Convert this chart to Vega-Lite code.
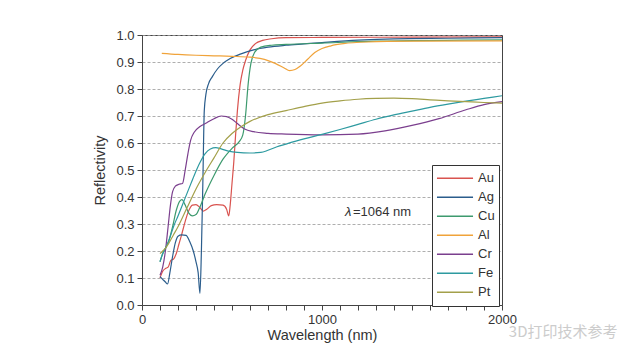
{
  "$schema": "https://vega.github.io/schema/vega-lite/v6.json",
  "autosize": "none",
  "width": 360,
  "height": 270,
  "padding": {"left": 142, "top": 35, "right": 139, "bottom": 53},
  "background": "white",
  "config": {
    "view": {"stroke": "#444", "strokeWidth": 1},
    "font": "Liberation Sans",
    "axis": {
      "domainColor": "#444",
      "tickColor": "#444",
      "labelColor": "#333",
      "titleColor": "#333",
      "labelFontSize": 13,
      "titleFontSize": 14.5,
      "titleFontWeight": "normal",
      "tickSize": 5,
      "labelOverlap": false,
      "labelFlush": false,
      "labelFont": "Liberation Sans",
      "titleFont": "Liberation Sans"
    }
  },
  "datasets": {
    "curves": [
      {"m":"Au","wl":100,"r":0.10},{"m":"Au","wl":115,"r":0.125},{"m":"Au","wl":130,"r":0.135},{"m":"Au","wl":145,"r":0.14},{"m":"Au","wl":160,"r":0.165},{"m":"Au","wl":175,"r":0.17},{"m":"Au","wl":190,"r":0.19},{"m":"Au","wl":205,"r":0.225},{"m":"Au","wl":220,"r":0.26},{"m":"Au","wl":240,"r":0.31},{"m":"Au","wl":260,"r":0.35},{"m":"Au","wl":280,"r":0.37},{"m":"Au","wl":300,"r":0.372},{"m":"Au","wl":320,"r":0.362},{"m":"Au","wl":340,"r":0.348},{"m":"Au","wl":360,"r":0.355},{"m":"Au","wl":385,"r":0.368},{"m":"Au","wl":415,"r":0.372},{"m":"Au","wl":450,"r":0.37},{"m":"Au","wl":470,"r":0.355},{"m":"Au","wl":482,"r":0.33},{"m":"Au","wl":490,"r":0.37},{"m":"Au","wl":500,"r":0.45},{"m":"Au","wl":510,"r":0.53},{"m":"Au","wl":520,"r":0.63},{"m":"Au","wl":530,"r":0.72},{"m":"Au","wl":545,"r":0.815},{"m":"Au","wl":560,"r":0.87},{"m":"Au","wl":575,"r":0.905},{"m":"Au","wl":600,"r":0.945},{"m":"Au","wl":630,"r":0.968},{"m":"Au","wl":670,"r":0.98},{"m":"Au","wl":720,"r":0.986},{"m":"Au","wl":800,"r":0.99},{"m":"Au","wl":1000,"r":0.991},{"m":"Au","wl":1500,"r":0.992},{"m":"Au","wl":2000,"r":0.993},

      {"m":"Ag","wl":100,"r":0.105},{"m":"Ag","wl":115,"r":0.095},{"m":"Ag","wl":130,"r":0.085},{"m":"Ag","wl":142,"r":0.078},{"m":"Ag","wl":155,"r":0.12},{"m":"Ag","wl":170,"r":0.18},{"m":"Ag","wl":185,"r":0.23},{"m":"Ag","wl":200,"r":0.255},{"m":"Ag","wl":220,"r":0.26},{"m":"Ag","wl":245,"r":0.258},{"m":"Ag","wl":265,"r":0.235},{"m":"Ag","wl":285,"r":0.2},{"m":"Ag","wl":300,"r":0.16},{"m":"Ag","wl":312,"r":0.12},{"m":"Ag","wl":322,"r":0.043},{"m":"Ag","wl":330,"r":0.2},{"m":"Ag","wl":338,"r":0.45},{"m":"Ag","wl":346,"r":0.72},{"m":"Ag","wl":355,"r":0.78},{"m":"Ag","wl":370,"r":0.82},{"m":"Ag","wl":390,"r":0.845},{"m":"Ag","wl":420,"r":0.875},{"m":"Ag","wl":450,"r":0.895},{"m":"Ag","wl":490,"r":0.913},{"m":"Ag","wl":550,"r":0.93},{"m":"Ag","wl":620,"r":0.945},{"m":"Ag","wl":700,"r":0.955},{"m":"Ag","wl":800,"r":0.962},{"m":"Ag","wl":900,"r":0.967},{"m":"Ag","wl":1000,"r":0.972},{"m":"Ag","wl":1200,"r":0.981},{"m":"Ag","wl":1400,"r":0.986},{"m":"Ag","wl":1700,"r":0.988},{"m":"Ag","wl":2000,"r":0.99},

      {"m":"Cu","wl":100,"r":0.16},{"m":"Cu","wl":115,"r":0.19},{"m":"Cu","wl":130,"r":0.21},{"m":"Cu","wl":150,"r":0.24},{"m":"Cu","wl":170,"r":0.29},{"m":"Cu","wl":190,"r":0.35},{"m":"Cu","wl":210,"r":0.385},{"m":"Cu","wl":222,"r":0.39},{"m":"Cu","wl":240,"r":0.37},{"m":"Cu","wl":260,"r":0.34},{"m":"Cu","wl":280,"r":0.33},{"m":"Cu","wl":300,"r":0.335},{"m":"Cu","wl":320,"r":0.36},{"m":"Cu","wl":350,"r":0.41},{"m":"Cu","wl":400,"r":0.48},{"m":"Cu","wl":450,"r":0.54},{"m":"Cu","wl":500,"r":0.58},{"m":"Cu","wl":540,"r":0.605},{"m":"Cu","wl":560,"r":0.63},{"m":"Cu","wl":575,"r":0.70},{"m":"Cu","wl":590,"r":0.82},{"m":"Cu","wl":605,"r":0.895},{"m":"Cu","wl":625,"r":0.935},{"m":"Cu","wl":660,"r":0.955},{"m":"Cu","wl":720,"r":0.962},{"m":"Cu","wl":800,"r":0.965},{"m":"Cu","wl":1000,"r":0.97},{"m":"Cu","wl":1300,"r":0.977},{"m":"Cu","wl":2000,"r":0.982},

      {"m":"Al","wl":110,"r":0.932},{"m":"Al","wl":200,"r":0.928},{"m":"Al","wl":300,"r":0.925},{"m":"Al","wl":400,"r":0.923},{"m":"Al","wl":500,"r":0.921},{"m":"Al","wl":600,"r":0.918},{"m":"Al","wl":680,"r":0.91},{"m":"Al","wl":740,"r":0.895},{"m":"Al","wl":790,"r":0.878},{"m":"Al","wl":820,"r":0.868},{"m":"Al","wl":850,"r":0.872},{"m":"Al","wl":880,"r":0.885},{"m":"Al","wl":920,"r":0.91},{"m":"Al","wl":960,"r":0.935},{"m":"Al","wl":1000,"r":0.95},{"m":"Al","wl":1050,"r":0.96},{"m":"Al","wl":1120,"r":0.968},{"m":"Al","wl":1250,"r":0.974},{"m":"Al","wl":1500,"r":0.977},{"m":"Al","wl":2000,"r":0.978},

      {"m":"Cr","wl":100,"r":0.11},{"m":"Cr","wl":115,"r":0.14},{"m":"Cr","wl":130,"r":0.20},{"m":"Cr","wl":145,"r":0.29},{"m":"Cr","wl":158,"r":0.37},{"m":"Cr","wl":170,"r":0.42},{"m":"Cr","wl":185,"r":0.44},{"m":"Cr","wl":205,"r":0.447},{"m":"Cr","wl":225,"r":0.45},{"m":"Cr","wl":240,"r":0.50},{"m":"Cr","wl":255,"r":0.56},{"m":"Cr","wl":270,"r":0.61},{"m":"Cr","wl":290,"r":0.64},{"m":"Cr","wl":320,"r":0.66},{"m":"Cr","wl":360,"r":0.675},{"m":"Cr","wl":400,"r":0.69},{"m":"Cr","wl":440,"r":0.70},{"m":"Cr","wl":470,"r":0.698},{"m":"Cr","wl":500,"r":0.688},{"m":"Cr","wl":530,"r":0.672},{"m":"Cr","wl":570,"r":0.652},{"m":"Cr","wl":620,"r":0.642},{"m":"Cr","wl":700,"r":0.636},{"m":"Cr","wl":800,"r":0.633},{"m":"Cr","wl":1000,"r":0.63},{"m":"Cr","wl":1200,"r":0.633},{"m":"Cr","wl":1350,"r":0.645},{"m":"Cr","wl":1500,"r":0.665},{"m":"Cr","wl":1650,"r":0.69},{"m":"Cr","wl":1800,"r":0.723},{"m":"Cr","wl":1900,"r":0.742},{"m":"Cr","wl":2000,"r":0.753},

      {"m":"Fe","wl":100,"r":0.16},{"m":"Fe","wl":115,"r":0.19},{"m":"Fe","wl":130,"r":0.21},{"m":"Fe","wl":150,"r":0.24},{"m":"Fe","wl":175,"r":0.29},{"m":"Fe","wl":200,"r":0.33},{"m":"Fe","wl":230,"r":0.38},{"m":"Fe","wl":260,"r":0.43},{"m":"Fe","wl":290,"r":0.48},{"m":"Fe","wl":320,"r":0.525},{"m":"Fe","wl":350,"r":0.56},{"m":"Fe","wl":380,"r":0.578},{"m":"Fe","wl":410,"r":0.583},{"m":"Fe","wl":440,"r":0.578},{"m":"Fe","wl":480,"r":0.57},{"m":"Fe","wl":530,"r":0.565},{"m":"Fe","wl":600,"r":0.563},{"m":"Fe","wl":660,"r":0.565},{"m":"Fe","wl":700,"r":0.573},{"m":"Fe","wl":750,"r":0.586},{"m":"Fe","wl":800,"r":0.596},{"m":"Fe","wl":900,"r":0.615},{"m":"Fe","wl":1000,"r":0.632},{"m":"Fe","wl":1100,"r":0.65},{"m":"Fe","wl":1200,"r":0.669},{"m":"Fe","wl":1300,"r":0.688},{"m":"Fe","wl":1400,"r":0.704},{"m":"Fe","wl":1500,"r":0.718},{"m":"Fe","wl":1600,"r":0.732},{"m":"Fe","wl":1700,"r":0.744},{"m":"Fe","wl":1800,"r":0.755},{"m":"Fe","wl":1900,"r":0.765},{"m":"Fe","wl":2000,"r":0.775},

      {"m":"Pt","wl":100,"r":0.19},{"m":"Pt","wl":115,"r":0.20},{"m":"Pt","wl":130,"r":0.21},{"m":"Pt","wl":150,"r":0.23},{"m":"Pt","wl":175,"r":0.26},{"m":"Pt","wl":200,"r":0.29},{"m":"Pt","wl":250,"r":0.36},{"m":"Pt","wl":300,"r":0.43},{"m":"Pt","wl":350,"r":0.49},{"m":"Pt","wl":400,"r":0.545},{"m":"Pt","wl":450,"r":0.60},{"m":"Pt","wl":500,"r":0.635},{"m":"Pt","wl":550,"r":0.66},{"m":"Pt","wl":600,"r":0.68},{"m":"Pt","wl":700,"r":0.705},{"m":"Pt","wl":800,"r":0.72},{"m":"Pt","wl":900,"r":0.735},{"m":"Pt","wl":1000,"r":0.748},{"m":"Pt","wl":1100,"r":0.756},{"m":"Pt","wl":1200,"r":0.762},{"m":"Pt","wl":1300,"r":0.765},{"m":"Pt","wl":1400,"r":0.766},{"m":"Pt","wl":1500,"r":0.764},{"m":"Pt","wl":1600,"r":0.76},{"m":"Pt","wl":1700,"r":0.756},{"m":"Pt","wl":1800,"r":0.753},{"m":"Pt","wl":1900,"r":0.75},{"m":"Pt","wl":2000,"r":0.748}
    ]
  },
  "encoding": {
    "x": {
      "field": "wl", "type": "quantitative",
      "scale": {"domain": [0, 2000], "nice": false},
      "axis": {
        "title": "Wavelength (nm)",
        "tickCount": 20,
        "labelExpr": "datum.value % 1000 === 0 ? format(datum.value, 'd') : ''",
        "grid": false,
        "labelPadding": 3,
        "titlePadding": 2
      }
    },
    "y": {
      "field": "r", "type": "quantitative",
      "scale": {"domain": [0, 1], "nice": false},
      "axis": {
        "title": "Reflectivity",
        "tickCount": 10,
        "format": ".1f",
        "grid": true,
        "gridColor": "#999999",
        "gridDash": [3, 2],
        "gridWidth": 0.8,
        "labelPadding": 3,
        "titlePadding": 8
      }
    }
  },
  "layer": [
    {
      "data": {"values": [{"wl": 1064}]},
      "mark": {"type": "rule", "color": "#bbbbbb", "strokeDash": [3, 3], "strokeWidth": 1},
      "encoding": {
        "y": {"datum": 0},
        "y2": {"datum": 1}
      }
    },
    {
      "data": {"name": "curves"},
      "mark": {"type": "line", "strokeWidth": 1.2, "interpolate": "monotone", "clip": true},
      "encoding": {
        "color": {
          "field": "m", "type": "nominal",
          "scale": {
            "domain": ["Au","Ag","Cu","Al","Cr","Fe","Pt"],
            "range": ["#d9534f","#2b5d8c","#3d9a6e","#f0a33a","#7b3f8e","#2d9aa0","#a3a04a"]
          },
          "legend": {
            "title": null,
            "orient": "none",
            "legendX": 290,
            "legendY": 130,
            "symbolType": "stroke",
            "symbolSize": 1300,
            "symbolStrokeWidth": 1.5,
            "clipHeight": 18.3,
            "rowPadding": 0,
            "padding": 4,
            "strokeColor": "#333333",
            "fillColor": "white",
            "labelFontSize": 13,
            "labelColor": "#333333",
            "labelOffset": 4,
            "labelFont": "Liberation Sans",
            "encode": {"symbols": {"update": {"size": {"value": 1300}}}}
          }
        }
      }
    },
    {
      "data": {"values": [{"wl": 1128, "r": 0.344, "t": "λ"}]},
      "mark": {"type": "text", "align": "left", "baseline": "middle", "fontSize": 13, "fontStyle": "italic", "color": "#333333", "font": "Liberation Sans"},
      "encoding": {"text": {"field": "t"}}
    },
    {
      "data": {"values": [{"wl": 1172, "r": 0.344, "t": "=1064 nm"}]},
      "mark": {"type": "text", "align": "left", "baseline": "middle", "fontSize": 13, "color": "#333333", "font": "Liberation Sans"},
      "encoding": {"text": {"field": "t"}}
    },
    {
      "data": {"values": [{"wl": 2340, "r": -0.1, "t": "3D打印技术参考"}]},
      "mark": {"type": "text", "align": "center", "baseline": "middle", "fontSize": 15, "color": "#cccccc", "font": "Noto Sans CJK SC", "clip": false},
      "encoding": {"text": {"field": "t"}}
    }
  ]
}
